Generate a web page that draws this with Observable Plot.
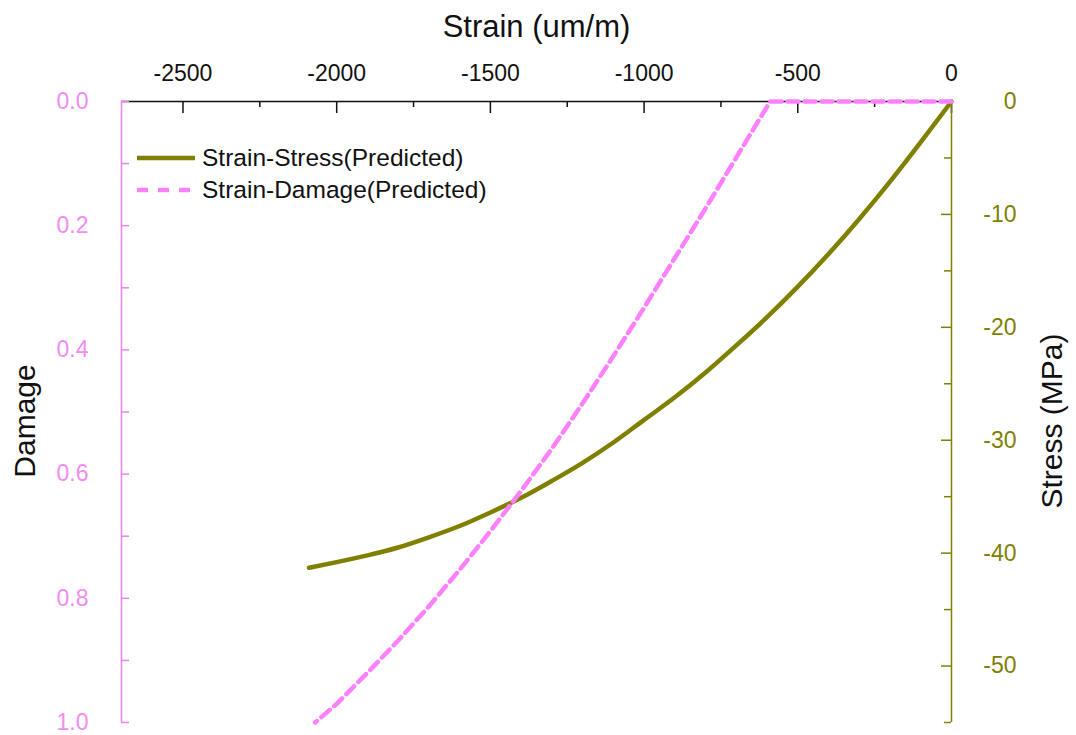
<!DOCTYPE html>
<html><head><meta charset="utf-8">
<script src="https://cdn.jsdelivr.net/npm/d3@7"></script>
<script src="https://cdn.jsdelivr.net/npm/@observablehq/plot@0.6"></script>
<style>
body{margin:0;background:#fff;}
#chart{position:relative;width:1076px;height:735px;font-family:"Liberation Sans",Arial,sans-serif;}
#legend{position:absolute;left:136px;top:142px;font-size:24.5px;color:#111;line-height:32px;}
#legend div{display:flex;align-items:center;height:32px;}
#legend svg{margin-right:6px;}
</style></head><body><div id="chart"></div>
<script>
// Strain-Stress (Predicted)
const strainStress = [0,-100,-200,-300,-400,-500,-600,-700,-800,-900,-1000,-1100,-1200,-1300,-1400,-1500,-1600,-1700,-1800,-1900,-2000,-2090];
const stressValues = [0,-3.6,-7.1,-10.4,-13.5,-16.4,-19.1,-21.6,-24.0,-26.2,-28.2,-30.2,-32.0,-33.6,-35.1,-36.4,-37.6,-38.6,-39.5,-40.2,-40.8,-41.3];
// Strain-Damage (Predicted)
const strainDamage = [0,-590,-700,-800,-900,-1000,-1100,-1200,-1300,-1400,-1500,-1600,-1700,-1800,-1900,-2000,-2070];
const damageValues = [0,0,0.09,0.172,0.252,0.332,0.41,0.486,0.559,0.627,0.692,0.754,0.813,0.868,0.92,0.97,1.0];
// ticks
const strainTicks = [-2500,-2000,-1500,-1000,-500,0];
const strainMinorTicks = [-2250,-1750,-1250,-750,-250];
const damageTicks = [0,0.2,0.4,0.6,0.8,1.0];
const damageMinorTicks = [0.1,0.3,0.5,0.7,0.9];
const stressTicks = [0,-10,-20,-30,-40,-50];
const stressMinorTicks = [-5,-15,-25,-35,-45,-55];
const strainDomain = [-2700,0];
const stressMin = -55;

const olive = "#808000", pink = "#ff80ff", pinkAxis = "#f080f0", pinkText = "#f28cf2";
const toDmg = s => s / stressMin;
const W = 1076, H = 735, mL = 121, mR = 125, mT = 101, mB = 13;
const innerW = W - mL - mR, innerH = H - mT - mB;
const font = "'Liberation Sans', Arial, sans-serif";

const plot = Plot.plot({
  width: W, height: H, marginLeft: mL, marginRight: mR, marginTop: mT, marginBottom: mB,
  style: {fontFamily: font, background: "white", overflow: "visible"},
  x: {domain: strainDomain},
  y: {domain: [0, 1], reverse: true},
  marks: [
    // top axis
    Plot.axisX({anchor: "top", ticks: strainTicks, tickFormat: d => String(d), tickSize: 0, tickPadding: 21, fontSize: 23, color: "#111", label: null}),
    Plot.tickX(strainTicks, {x: d => d, stroke: "#111", strokeWidth: 1.5, insetBottom: innerH - 12}),
    Plot.tickX(strainMinorTicks, {x: d => d, stroke: "#111", strokeWidth: 1.5, insetBottom: innerH - 6}),
    Plot.ruleY([0], {stroke: "#111", strokeWidth: 1.5}),
    // left axis
    Plot.ruleX([strainDomain[0]], {stroke: pinkAxis, strokeWidth: 1.5}),
    Plot.tickY(damageTicks, {y: d => d, stroke: pinkAxis, strokeWidth: 1.5, insetRight: innerW - 8}),
    Plot.tickY(damageMinorTicks, {y: d => d, stroke: pinkAxis, strokeWidth: 1.5, insetRight: innerW - 8}),
    Plot.axisY({anchor: "left", ticks: damageTicks, tickFormat: d3.format(".1f"), tickSize: 0, tickPadding: 33, fontSize: 23, color: pinkText, label: null}),
    // right axis
    Plot.ruleX([0], {stroke: olive, strokeWidth: 1.5}),
    Plot.tickY(stressTicks, {y: d => toDmg(d), stroke: olive, strokeWidth: 1.5, insetLeft: innerW - 10}),
    Plot.tickY(stressMinorTicks, {y: d => toDmg(d), stroke: olive, strokeWidth: 1.5, insetLeft: innerW - 7}),
    Plot.axisY({anchor: "right", ticks: stressTicks.map(toDmg), tickFormat: d => String(Math.round(d * stressMin)), tickSize: 0, tickPadding: 65, textAnchor: "end", fontSize: 23, color: olive, label: null}),
    // series
    Plot.line(stressValues, {x: (d, i) => strainStress[i], y: d => toDmg(d), stroke: olive, strokeWidth: 4.5, curve: "monotone-x"}),
    Plot.line(damageValues, {x: (d, i) => strainDamage[i], y: d => d, stroke: pink, strokeWidth: 4.5, strokeDasharray: "11,6"}),
    // axis titles
    Plot.text(["Strain (um/m)"], {frameAnchor: "top", dy: -87, fontSize: 31, fill: "#111"}),
    Plot.text(["Damage"], {frameAnchor: "left", dx: -96, dy: 9, textAnchor: "middle", rotate: -90, fontSize: 30, fill: "#111"}),
    Plot.text(["Stress (MPa)"], {frameAnchor: "right", dx: 101, dy: 9, textAnchor: "middle", rotate: -90, fontSize: 30, fill: "#111"})
  ]
});
const chart = document.getElementById("chart");
chart.appendChild(plot);
const legend = document.createElement("div");
legend.id = "legend";
legend.innerHTML = `
<div><svg width="60" height="8"><line x1="1" y1="4" x2="59" y2="4" stroke="${olive}" stroke-width="4.5"/></svg><span>Strain-Stress(Predicted)</span></div>
<div><svg width="60" height="8"><line x1="1" y1="4" x2="59" y2="4" stroke="${pink}" stroke-width="4.5" stroke-dasharray="11,10"/></svg><span>Strain-Damage(Predicted)</span></div>`;
chart.appendChild(legend);
</script></body></html>
